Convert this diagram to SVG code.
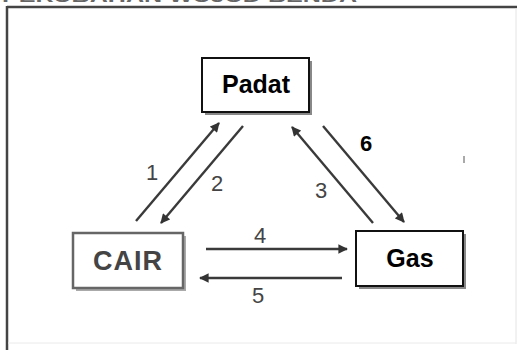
<svg xmlns="http://www.w3.org/2000/svg" width="518" height="350" viewBox="0 0 518 350">
  <defs>
    <marker id="ah" viewBox="0 0 10 10" refX="9" refY="5" markerWidth="4.4" markerHeight="4" markerUnits="strokeWidth" orient="auto">
      <path d="M0,0 L10,5 L0,10 z" fill="#333"/>
    </marker>
    <style>
      .box { fill: #fff; stroke: #111; stroke-width: 2; }
      .shadow { fill: #888; }
      .lbl { font-family: "Liberation Sans", Arial, sans-serif; font-weight: bold; fill: #000; text-anchor: middle; }
      .num { font-family: "Liberation Sans", Arial, sans-serif; font-size: 22px; fill: #444; text-anchor: middle; }
      .conn line { stroke: #3a3a3a; stroke-width: 2.4; marker-end: url(#ah); }
    </style>
  </defs>
  <rect width="518" height="350" fill="#fff"/>
  <text x="2" y="2" font-family="Liberation Sans, Arial, sans-serif" font-weight="bold" font-size="16" fill="#666" textLength="355" lengthAdjust="spacingAndGlyphs">PERUBAHAN WUJUD BENDA</text>
  <g id="frame">
    <line x1="7" y1="7" x2="517" y2="7" stroke="#444" stroke-width="2.5"/>
    <line x1="7" y1="6" x2="7" y2="350" stroke="#444" stroke-width="2.5"/>
    <line x1="516" y1="8" x2="516" y2="344" stroke="#e4e4e4" stroke-width="1"/>
    <line x1="8" y1="343" x2="516" y2="343" stroke="#eaeaea" stroke-width="1"/>
  </g>
  <g id="padat">
    <rect class="shadow" x="205" y="61" width="107" height="54"/>
    <rect class="box" x="202" y="58" width="107" height="54"/>
    <text class="lbl" x="256" y="93" font-size="25">Padat</text>
  </g>
  <g id="cair">
    <rect x="76" y="236" width="110" height="55" fill="#aaa"/>
    <rect x="73" y="233" width="110" height="55" fill="#fff" stroke="#666" stroke-width="2.5"/>
    <text class="lbl" x="128" y="270" font-size="27" style="fill:#444" letter-spacing="1">CAIR</text>
  </g>
  <g id="gas">
    <rect class="shadow" x="359" y="234" width="107" height="55"/>
    <rect class="box" x="356" y="231" width="107" height="55"/>
    <text class="lbl" x="410" y="267" font-size="25">Gas</text>
  </g>
  <g id="connectors" class="conn">
    <line x1="136" y1="221" x2="219" y2="123"/>
    <line x1="243" y1="126" x2="161" y2="223"/>
    <line x1="373" y1="223" x2="292" y2="127"/>
    <line x1="323" y1="126" x2="404" y2="222"/>
    <line x1="206" y1="249" x2="347" y2="249"/>
    <line x1="342" y1="278" x2="200" y2="278"/>
  </g>
  <g id="labels">
    <text class="num" x="152" y="180">1</text>
    <text class="num" x="217" y="191">2</text>
    <text class="num" x="321" y="198">3</text>
    <text class="num" x="260" y="243">4</text>
    <text class="num" x="258" y="303">5</text>
    <text x="366" y="151" font-family="Liberation Sans, Arial, sans-serif" font-weight="bold" font-size="22" fill="#000" text-anchor="middle">6</text>
  </g>
  <rect x="463" y="156" width="2" height="7" fill="#aaa"/>
</svg>
